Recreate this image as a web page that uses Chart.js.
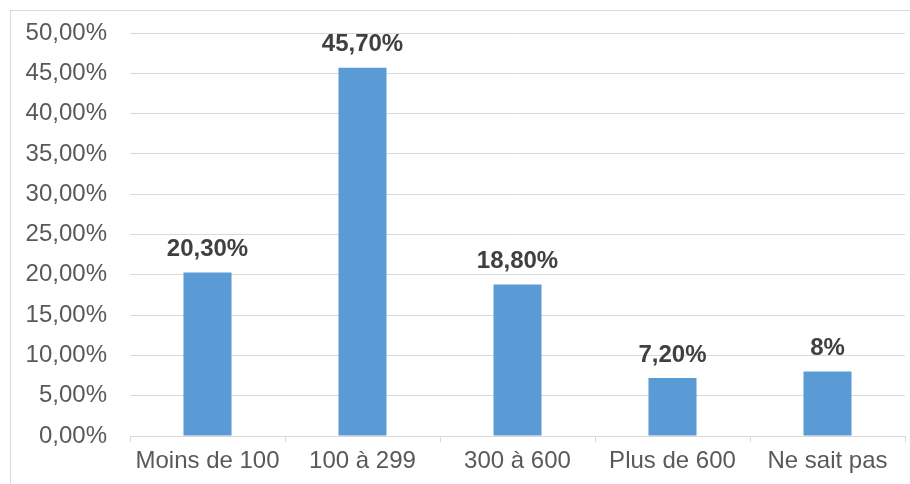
<!DOCTYPE html>
<html>
<head>
<meta charset="utf-8">
<script src="https://cdn.jsdelivr.net/npm/chart.js@4"></script>
<style>
  body { margin: 0; background: #fff; }
  #frame { position: absolute; left: 10px; top: 10px; width: 1000px; height: 1000px; border: 1px solid #d9d9d9; }
  #wrap { position: absolute; left: 0; top: 0; width: 910px; height: 484px; }
</style>
</head>
<body>
<div id="frame"></div>
<div id="wrap"><canvas id="MyChart"></canvas></div>
<script>
// data
var categories = ['Moins de 100', '100 à 299', '300 à 600', 'Plus de 600', 'Ne sait pas'];
var values = [20.3, 45.7, 18.8, 7.2, 8];
var valueLabels = ['20,30%', '45,70%', '18,80%', '7,20%', '8%'];
var yTicks = [0, 5, 10, 15, 20, 25, 30, 35, 40, 45, 50];

function fmtTick(v) {
  return v.toFixed(2).replace('.', ',') + '%';
}

// draws the bold value above each bar
const barLabels = {
  id: 'barLabels',
  afterDatasetsDraw: function (chart) {
    var ctx = chart.ctx;
    var meta = chart.getDatasetMeta(0);
    ctx.save();
    ctx.font = 'bold 24px "Liberation Sans", Arial, sans-serif';
    ctx.fillStyle = '#404040';
    ctx.textAlign = 'center';
    ctx.textBaseline = 'middle';
    meta.data.forEach(function (bar, i) {
      ctx.fillText(valueLabels[i], bar.x, bar.y - 23);
    });
    ctx.restore();
  }
};

const data = {
  labels: categories,
  datasets: [{
    data: values,
    backgroundColor: '#5b9bd5',
    borderWidth: 0,
    categoryPercentage: 1,
    barPercentage: 0.31
  }]
};

const config = {
  type: 'bar',
  data: data,
  plugins: [barLabels],
  options: {
    responsive: true,
    maintainAspectRatio: false,
    animation: false,
    layout: { padding: { left: 10, right: 5, top: 33, bottom: 0 } },
    plugins: {
      legend: { display: false },
      tooltip: { enabled: false }
    },
    scales: {
      y: {
        min: 0,
        max: 50,
        afterBuildTicks: function (scale) {
          scale.ticks = yTicks.map(function (v) { return { value: v }; });
        },
        afterFit: function (scale) {
          scale.width = 120;
          scale.paddingTop = 0;
          scale.paddingBottom = 0;
        },
        border: { display: false },
        grid: { color: '#d9d9d9', drawTicks: false },
        ticks: {
          padding: 23,
          color: '#595959',
          font: { family: '"Liberation Sans", Arial, sans-serif', size: 24 },
          callback: function (v) { return fmtTick(v); }
        }
      },
      x: {
        afterFit: function (scale) { scale.height = 48; },
        border: { display: true, color: '#d9d9d9' },
        grid: { drawOnChartArea: false, drawTicks: true, tickLength: 6, color: '#d9d9d9', offset: true },
        ticks: {
          padding: 5,
          color: '#595959',
          font: { family: '"Liberation Sans", Arial, sans-serif', size: 24 }
        }
      }
    }
  }
};

const myChart = new Chart(document.getElementById('MyChart'), config);
</script>
</body>
</html>
